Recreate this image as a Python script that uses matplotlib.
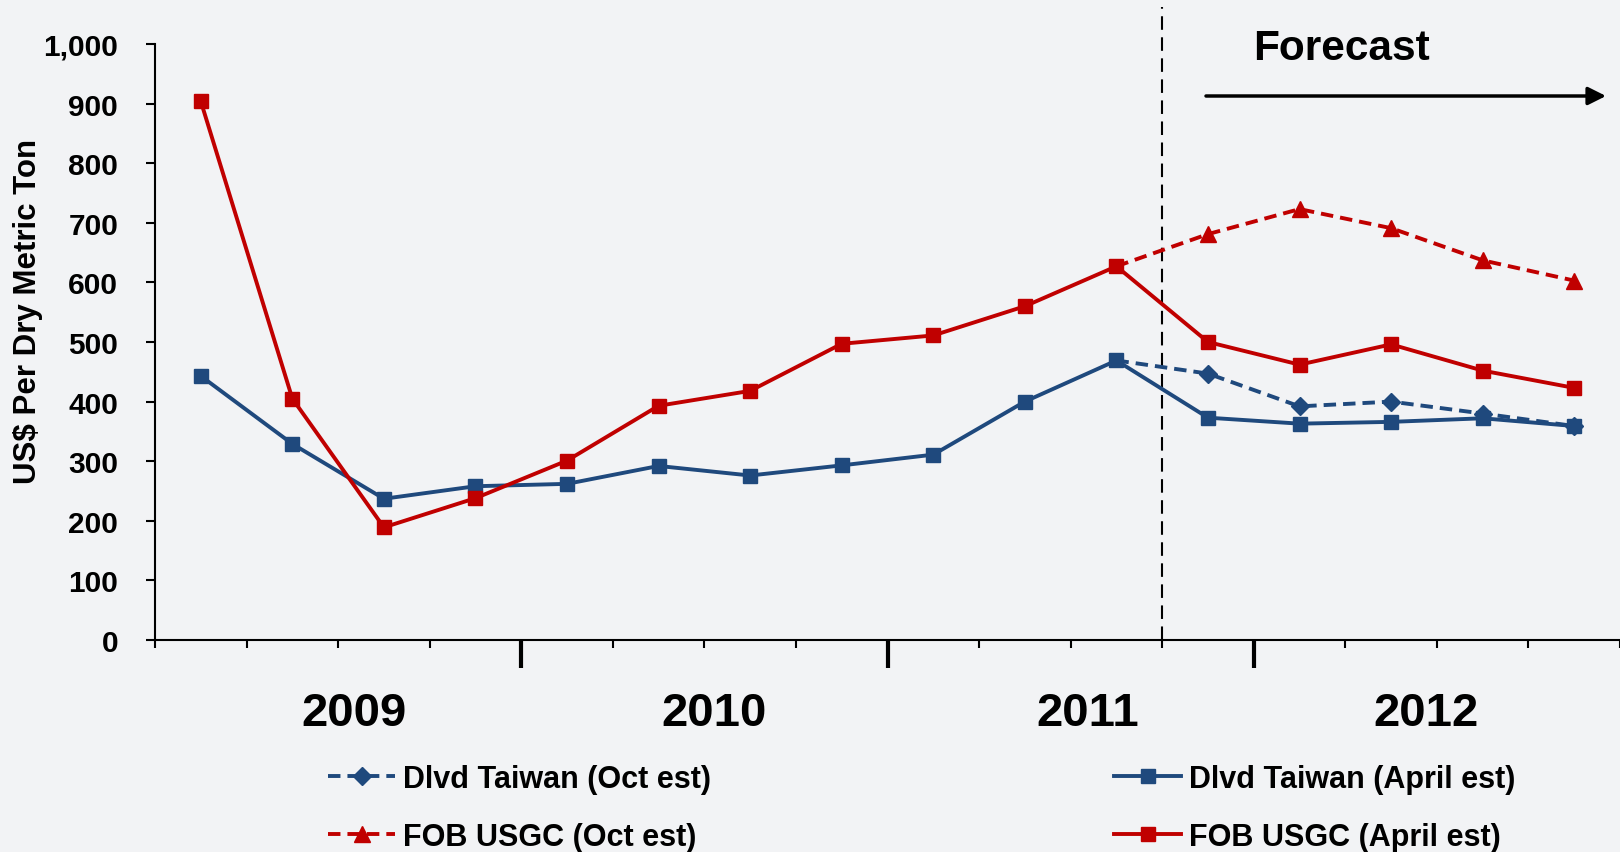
import numpy as np
import matplotlib.pyplot as plt
from matplotlib.ticker import FixedLocator, FuncFormatter

# --- data (quarterly, Q1 2009 .. Q4 2012) ---
years = ["2009", "2010", "2011", "2012"]
n_quarters = 16
taiwan_april = [443, 329, 237, 258, 262, 292, 276, 293, 311, 400, 469, 373, 363, 366, 372, 359]
usgc_april = [904, 405, 189, 238, 301, 393, 418, 497, 511, 560, 627, 500, 462, 496, 452, 423]
nan = np.nan
taiwan_oct = [nan] * 10 + [469, 447, 392, 400, 380, 359]
usgc_oct = [nan] * 10 + [627, 681, 723, 691, 637, 603]

BLUE = "#1F497D"
RED = "#C00000"
BG = "#F2F3F5"

plt.rcParams['font.family'] = ['Liberation Sans', 'DejaVu Sans']
plt.rcParams['font.weight'] = 'bold'

W, H = 1620, 853
fig = plt.figure(figsize=(W / 100, H / 100), dpi=100, facecolor=BG)
ax = fig.add_axes([155 / W, 1 - 641 / H, 1 - 155 / W, (641 - 45) / H])
ax.set_facecolor(BG)

x = np.arange(n_quarters)
dash = (0, (3.2, 1.8))

ax.plot(x, taiwan_oct, color=BLUE, lw=2.8, ls=dash, marker='D', ms=9.5,
        markevery=slice(11, None), label="Dlvd Taiwan (Oct est)", zorder=3)
ax.plot(x, usgc_oct, color=RED, lw=2.8, ls=dash, marker='^', ms=11,
        markevery=slice(11, None), label="FOB USGC (Oct est)", zorder=3)
ax.plot(x, taiwan_april, color=BLUE, lw=2.8, marker='s', ms=10,
        label="Dlvd Taiwan (April est)", zorder=4)
ax.plot(x, usgc_april, color=RED, lw=2.8, marker='s', ms=10,
        label="FOB USGC (April est)", zorder=5)

# axes styling
ax.set_xlim(-0.5, n_quarters - 0.5)
ax.set_ylim(0, 1000)
for s in ['top', 'right']:
    ax.spines[s].set_visible(False)
for s in ['left', 'bottom']:
    ax.spines[s].set_linewidth(1.5)

ax.set_yticks(np.arange(0, 1001, 100))
ax.yaxis.set_major_formatter(FuncFormatter(lambda v, p: f"{int(v):,}"))
ax.tick_params(axis='y', length=6.5, width=1.5, pad=20, labelsize=21.5)

boundaries = np.arange(-0.5, n_quarters, 1.0)
year_edges = [3.5, 7.5, 11.5]
ax.xaxis.set_major_locator(FixedLocator(year_edges))
ax.xaxis.set_minor_locator(FixedLocator([b for b in boundaries if b not in year_edges]))
ax.tick_params(axis='x', which='major', length=20, width=3, labelbottom=False)
ax.tick_params(axis='x', which='minor', length=5.5, width=1.5)

# forecast divider
ax.axvline(10.5, ymin=0, ymax=(641 - 8) / (641 - 45), color='black', lw=1.5,
           ls=(0, (6.5, 3.6)), clip_on=False)

# year labels
year_x = [354, 713.6, 1088, 1426]
for yr, px in zip(years, year_x):
    fig.text(px / W, 1 - 726 / H, yr, ha='center', va='baseline',
             fontsize=34, fontweight='bold')

fig.text(28 / W, 1 - 311 / H, "US$ Per Dry Metric Ton", rotation=90,
         ha='center', va='center', fontsize=22.5, fontweight='bold')

fig.text(1341 / W, 1 - 60 / H, "Forecast", ha='center', va='baseline',
         fontsize=30.5, fontweight='bold')
ax.annotate('', xy=(1606 / W, 1 - 97 / H), xytext=(1206 / W, 1 - 97 / H),
            xycoords='figure fraction', textcoords='figure fraction',
            arrowprops=dict(arrowstyle='-|>,head_length=0.4,head_width=0.2',
                            mutation_scale=27, lw=2.5, color='black',
                            shrinkA=0, shrinkB=0))

# legend: two columns placed separately
handles, labels = ax.get_legend_handles_labels()
leg_kw = dict(frameon=False, fontsize=22, handlelength=2.2, handletextpad=0.27,
              labelspacing=0.92, borderpad=0, borderaxespad=0, loc='center left',
              bbox_transform=fig.transFigure)
leg1 = ax.legend(handles[:2], labels[:2], bbox_to_anchor=(328 / W, 1 - 809 / H), **leg_kw)
ax.add_artist(leg1)
ax.legend(handles[2:], labels[2:], bbox_to_anchor=(1114 / W, 1 - 809 / H), **leg_kw)

fig.savefig("out.png", dpi=100, facecolor=BG)
